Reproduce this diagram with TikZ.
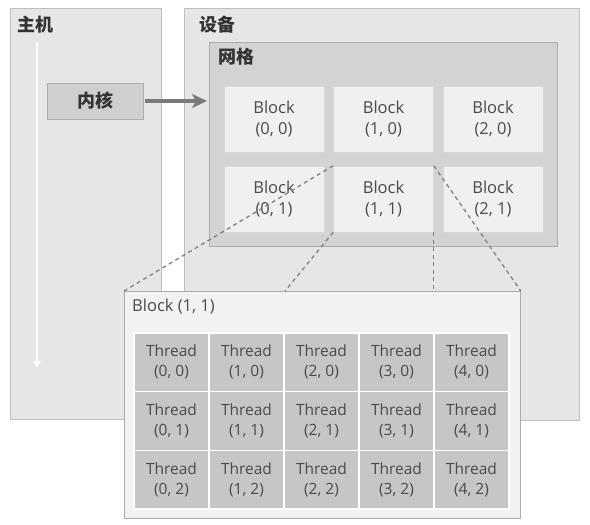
\documentclass[tikz,border=0pt]{standalone}
\usepackage{fontspec}
\setmainfont{Open Sans}
\newfontfamily\cjk{Noto Sans CJK SC}
\usetikzlibrary{arrows.meta,positioning}
\definecolor{cPanel}{HTML}{E6E6E6}
\definecolor{cEdge} {HTML}{BEBEBE}
\definecolor{cGrid} {HTML}{D3D3D3}
\definecolor{cBlk}  {HTML}{F0F0F0}
\definecolor{cKern} {HTML}{CFCFCF}
\definecolor{cThr}  {HTML}{C6C6C6}
\definecolor{cInk}  {HTML}{4A4A4A}
\definecolor{cLine} {HTML}{808080}
\tikzset{
  panel/.style ={draw=cEdge,fill=cPanel,line width=0.8pt,inner sep=0pt,anchor=north west},
  gridbox/.style={panel,fill=cGrid,draw=cEdge!90!black},
  blk/.style   ={draw=cEdge!60,fill=cBlk,line width=0.6pt,align=center,inner sep=0pt,
                 minimum width=100pt,minimum height=66pt,text=cInk,
                 font=\fontsize{16.5}{21}\selectfont},
  kern/.style  ={draw=cEdge!90!black,fill=cKern,line width=0.6pt,inner sep=0pt,
                 minimum width=96pt,minimum height=36pt,text=black!80,
                 font=\cjk\bfseries\fontsize{18}{20}\selectfont},
  thr/.style   ={draw=white,fill=cThr,line width=1.2pt,align=center,inner sep=0pt,
                 minimum width=75pt,minimum height=58.7pt,text=cInk,
                 font=\fontsize{15.5}{20}\selectfont},
  ttl/.style   ={anchor=west,inner sep=0pt,text=black!80,
                 font=\cjk\bfseries\fontsize{18}{20}\selectfont},
  link/.style  ={draw=cLine,line width=1.3pt,dash pattern=on 4pt off 3.5pt},
  call/.style  ={-{Stealth[length=15pt,width=14pt,inset=4pt]},draw=cLine!95!black,
                 line width=3.2pt,shorten <=2pt,shorten >=2pt},
  flow/.style  ={-{Triangle[length=7pt,width=7pt]},draw=white,line width=1.8pt},
}

\begin{document}
\begin{tikzpicture}[x=1pt, y=-1pt]
\useasboundingbox (0,0) rectangle (590,525);

% host and device panels
\node[panel,minimum width=151pt,minimum height=411pt] (host) at (10,8) {};
\node[panel,minimum width=395pt,minimum height=412pt] (dev) at (184,8) {};
\node[ttl] at (17,25) {主机};
\node[ttl] at (199,25) {设备};

% host timeline
\coordinate (hTop) at (37,43);
\coordinate (hEnd) at (37,368);
\draw[flow] (hTop) -- (hEnd);

% grid of blocks
\node[gridbox,minimum width=348pt,minimum height=204pt] (grid) at (209,42) {};
\node[ttl] at (218,57) {网格};
\foreach \i in {0,1,2}
  \foreach \j in {0,1}
    \node[blk] (b\i\j) at (274+109.5*\i,119+80*\j) {Block\\(\i, \j)};

% kernel launch
\node[kern] (kern) at (95,101) {内核};
\draw[call] (kern.east) -- (kern.east -| grid.west);

% zoom onto block (1,1)
\node[panel,fill=black!5,draw=black!33,minimum width=396pt,minimum height=227pt]
  (detail) at (124,291) {};
\coordinate (dSW) at (285,291);
\draw[link] (b11.north west) -- (detail.north west);
\draw[link] (b11.south west) -- (dSW);
\draw[link] (b11.north east) -- (detail.north east);
\draw[link] (b11.south east) -- (b11.south east |- detail.north);
\node[anchor=west,inner sep=0pt,text=cInk,font=\fontsize{16.5}{20}\selectfont]
  (dlbl) at (132,307) {Block (1, 1)};

% threads
\foreach \i in {0,...,4}
  \foreach \j in {0,1,2}
    \node[thr] (t\i\j) at (171.5+75*\i,362.3+58.7*\j) {Thread\\(\i, \j)};
\end{tikzpicture}
\end{document}
